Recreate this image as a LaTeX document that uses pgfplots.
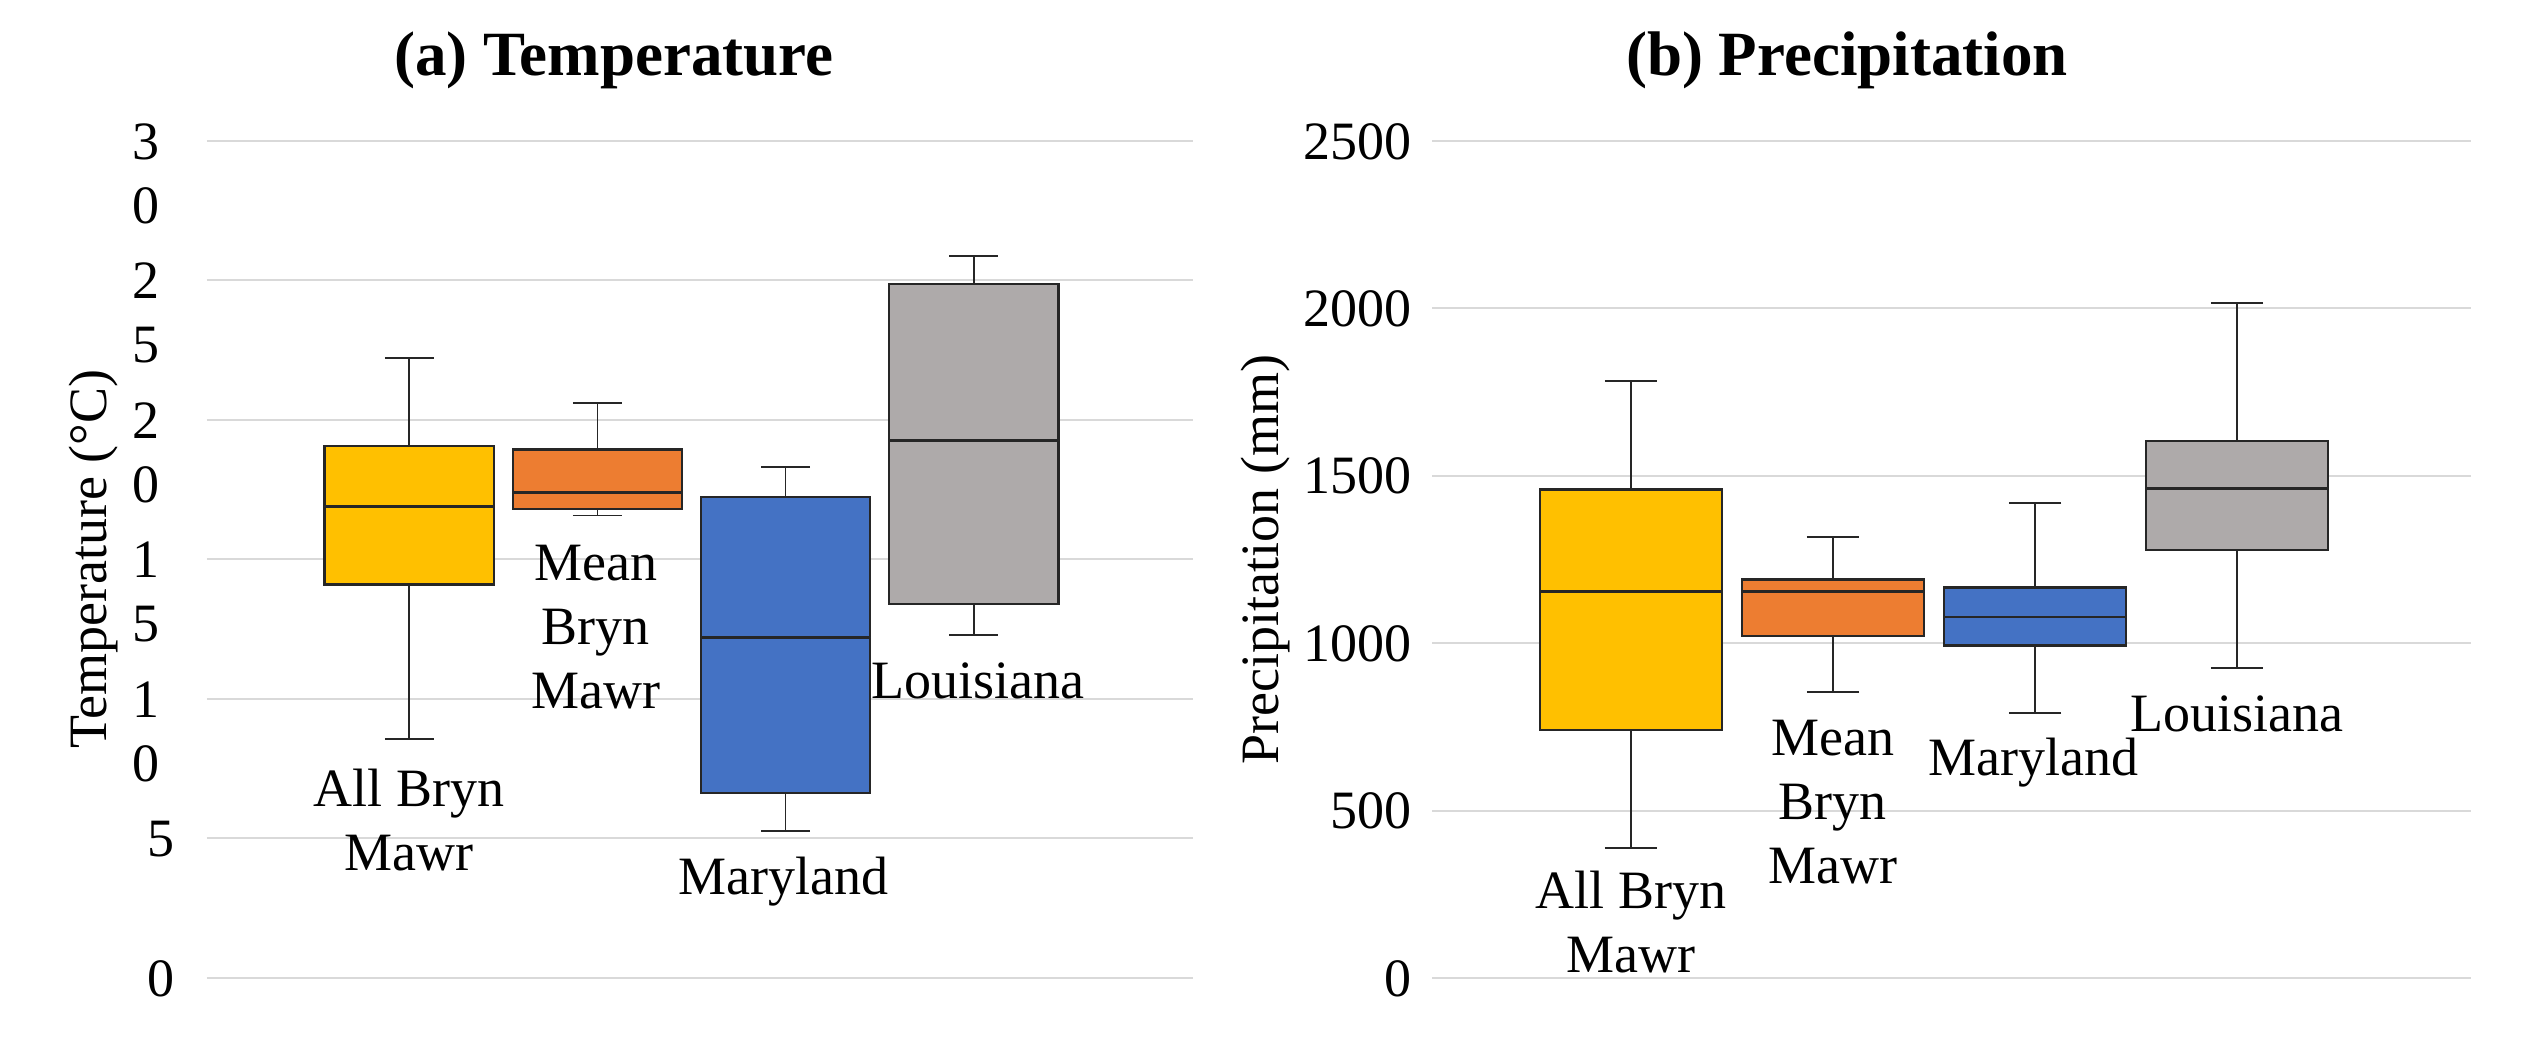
\documentclass[border=0pt]{standalone}
\usepackage{pgfplots}
\pgfplotsset{compat=1.18}
\usepgfplotslibrary{statistics}
\usepackage{fontspec}
\setmainfont{Liberation Serif}
\definecolor{cyel}{HTML}{FFC000}
\definecolor{cora}{HTML}{ED7D31}
\definecolor{cblu}{HTML}{4472C4}
\definecolor{cgry}{HTML}{AEAAAA}
\newcommand\st[2]{\begin{tabular}[t]{@{}c@{\hspace{4.5pt}}}#1\\#2\end{tabular}}
\newcommand\lf{\fontsize{16.2}{19.2}\selectfont}
\pgfplotsset{
  myax/.style={
    scale only axis, height=251.2pt, anchor=south west,
    axis line style={draw=none}, tick style={draw=none},
    xtick=\empty, ymajorgrids,
    grid style={draw=black!15, line width=0.6pt},
    clip=false,
    tick label style={font=\lf},
    yticklabel style={anchor=base east, inner sep=0pt, yshift=-5.5pt},
    label style={font=\lf},
    ylabel style={anchor=center},
    title style={font=\fontsize{18.9}{22}\selectfont\bfseries, anchor=base},
    boxplot/draw direction=y,
    boxplot/box extend=0.9,
    boxplot/whisker extend=0.26,
    boxplot/every whisker/.style={draw=black!85, line width=0.5pt},
    boxplot/every median/.style={draw=black!85, line width=0.7pt},
    boxplot/every box/.style={draw=black!85, line width=0.7pt},
  },
}
\tikzset{lab/.style={font=\lf, anchor=base, inner sep=0pt, align=center}}
\begin{document}
\begin{tikzpicture}
\path[use as bounding box] (0,0) rectangle (760.5pt,311.7pt);
% (a) Temperature
\begin{axis}[myax, at={(62.1pt,18.3pt)}, width=295.8pt,
  xmin=-0.075, xmax=5.165, ymin=0, ymax=30,
  ytick={0,5,10,15,20,25,30},
  yticklabels={0,5,\st10,\st15,\st20,\st25,\st30},
  yticklabel style={xshift=-9.5pt},
  ylabel={Temperature (°C)},
  ylabel style={at={(axis description cs:-0.1156,0.5)}},
  title={(a) Temperature},
  title style={at={(axis description cs:0.4128,1.0534)}},
]
\addplot[fill=cyel, boxplot prepared={draw position=1, lower whisker=8.56, lower quartile=14.10, median=16.89, upper quartile=19.07, upper whisker=22.21}] coordinates {};
\addplot[fill=cora, boxplot prepared={draw position=2, lower whisker=16.57, lower quartile=16.81, median=17.39, upper quartile=18.93, upper whisker=20.59}] coordinates {};
\addplot[fill=cblu, boxplot prepared={draw position=3, lower whisker=5.26, lower quartile=6.62, median=12.20, upper quartile=17.23, upper whisker=18.30}] coordinates {};
\addplot[fill=cgry, boxplot prepared={draw position=4, lower whisker=12.29, lower quartile=13.41, median=19.26, upper quartile=24.86, upper whisker=25.88}] coordinates {};
\node[lab] at (axis cs:0.998,6.13) {\begin{tabular}[t]{@{}c@{}}All Bryn\\Mawr\end{tabular}};
\node[lab] at (axis cs:1.992,14.25) {\begin{tabular}[t]{@{}c@{}}Mean\\Bryn\\Mawr\end{tabular}};
\node[lab] at (axis cs:2.991,3.0) {Maryland};
\node[lab] at (axis cs:4.022,10.03) {Louisiana};
\end{axis}
% (b) Precipitation
\begin{axis}[myax, at={(429.6pt,18.3pt)}, width=311.7pt,
  xmin=0.014, xmax=5.158, ymin=0, ymax=2500,
  ytick={0,500,1000,1500,2000,2500},
  yticklabels={0,500,1000,1500,2000,2500},
  yticklabel style={xshift=-6pt},
  ylabel={Precipitation (mm)},
  ylabel style={at={(axis description cs:-0.1607,0.5)}},
  title={(b) Precipitation},
  title style={at={(axis description cs:0.3994,1.0534)}},
]
\addplot[fill=cyel, boxplot prepared={draw position=1, lower whisker=389, lower quartile=740, median=1154, upper quartile=1459, upper whisker=1783}] coordinates {};
\addplot[fill=cora, boxplot prepared={draw position=2, lower whisker=853, lower quartile=1022, median=1154, upper quartile=1190, upper whisker=1317}] coordinates {};
\addplot[fill=cblu, boxplot prepared={draw position=3, lower whisker=791, lower quartile=993, median=1077, upper quartile=1166, upper whisker=1418}] coordinates {};
\addplot[fill=cgry, boxplot prepared={draw position=4, lower whisker=926, lower quartile=1277, median=1462, upper quartile=1603, upper whisker=2015}] coordinates {};
\node[lab] at (axis cs:0.999,209) {\begin{tabular}[t]{@{}c@{}}All Bryn\\Mawr\end{tabular}};
\node[lab] at (axis cs:1.999,665) {\begin{tabular}[t]{@{}c@{}}Mean\\Bryn\\Mawr\end{tabular}};
\node[lab] at (axis cs:2.994,606) {Maryland};
\node[lab] at (axis cs:3.999,737) {Louisiana};
\end{axis}
\end{tikzpicture}
\end{document}
